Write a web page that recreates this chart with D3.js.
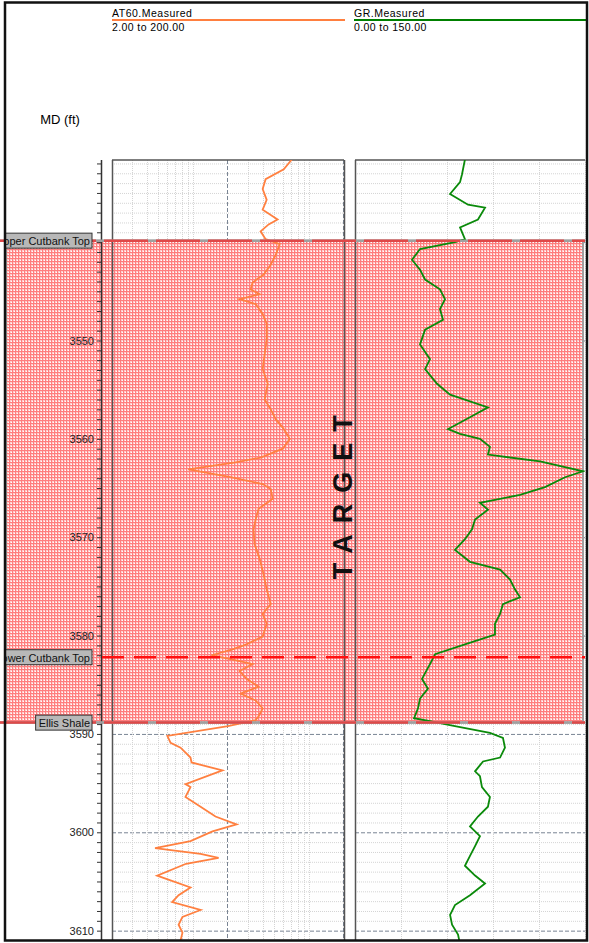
<!DOCTYPE html>
<html lang="en">
<head>
<meta charset="utf-8">
<title>Well log</title>
<script src="https://d3js.org/d3.v7.min.js"></script>
<style type="text/css">
  body { margin: 0; background: #fff; }
  text { font-family: "Liberation Sans", Arial, sans-serif; }
</style>
</head>
<body>
<svg width="589" height="943" id="svg1"></svg>
<script>

// depth (ft) / value readings
var atDepth = [3531.6,3532.6,3533.6,3534.6,3535.7,3536.7,3537.7,3538.2,3538.9,3539.7,3540.2,3541.3,3542.3,3543.3,3544.1,3544.8,3545.3,3545.8,3546.3,3547.3,3548.3,3549.9,3551.4,3552.9,3554.4,3556.0,3557.0,3558.0,3559.0,3560.0,3561.0,3561.9,3562.4,3563.1,3563.9,3564.6,3565.1,3566.1,3567.1,3568.2,3569.2,3570.7,3572.2,3573.8,3575.3,3576.8,3577.8,3578.8,3580.1,3580.9,3581.4,3582.0,3582.4,3582.9,3583.6,3584.4,3585.2,3585.9,3586.6,3587.4,3588.2,3588.6,3589.2,3590.2,3590.9,3591.4,3592.4,3592.9,3593.7,3595.1,3595.4,3596.4,3597.4,3598.4,3599.2,3599.9,3600.9,3601.6,3602.2,3602.6,3603.2,3604.4,3605.6,3606.4,3607.1,3607.9,3608.6,3609.4,3610.2,3611.0];
var at60 = [71.0,60.5,42.2,39.8,43.1,39.8,53.5,44.8,38.2,42.2,55.8,51.6,46.7,40.6,32.6,31.3,37.5,25.2,34.6,39.8,43.1,43.1,41.4,39.8,44.0,41.4,46.7,51.6,60.5,68.2,59.3,38.2,23.2,9.1,21.0,39.8,46.7,48.6,36.7,34.6,33.2,33.9,37.5,40.6,43.1,46.7,39.8,43.1,39.8,28.9,21.9,14.4,21.0,32.6,25.2,28.9,36.7,25.7,34.6,39.8,36.7,34.6,20.0,6.0,6.4,7.8,9.5,9.7,17.9,8.6,9.5,8.6,11.6,15.6,23.7,14.7,9.5,4.7,11.6,16.6,8.7,4.9,9.5,7.5,6.6,11.6,8.1,7.5,8.1,7.8];

var grDepth = [3531.6,3533.1,3533.9,3535.1,3536.2,3536.5,3537.7,3538.5,3539.7,3540.0,3540.7,3541.8,3542.8,3543.8,3544.8,3545.8,3546.8,3547.9,3548.9,3550.4,3551.9,3552.9,3554.4,3555.5,3556.8,3557.8,3559.0,3559.5,3560.0,3560.8,3561.6,3562.3,3563.3,3563.9,3564.9,3565.7,3566.5,3567.2,3568.2,3569.2,3570.2,3571.3,3572.5,3573.3,3574.3,3575.3,3576.1,3576.8,3577.8,3578.8,3579.9,3580.9,3581.9,3582.9,3584.4,3585.4,3586.4,3587.4,3588.4,3588.7,3589.2,3589.9,3590.4,3591.4,3592.4,3592.8,3593.8,3594.3,3595.4,3596.4,3597.4,3598.4,3599.4,3600.4,3601.4,3602.4,3603.4,3604.4,3605.2,3606.4,3607.4,3608.4,3609.4,3610.4,3611.0];
var gr = [71.7,69.8,68.5,62.0,73.7,84.8,80.2,68.5,71.7,65.2,42.4,37.2,42.4,45.7,55.4,58.7,55.4,57.4,45.7,42.4,48.9,45.7,53.5,62.0,86.7,75.0,60.7,68.5,81.5,88.0,86.7,120.7,148.7,137.0,123.9,107.6,81.5,86.7,78.3,76.3,71.7,65.2,75.0,94.6,101.1,104.3,107.6,96.5,94.6,91.3,91.3,71.7,52.2,48.9,43.7,47.6,42.4,41.1,38.5,48.9,65.2,88.0,96.5,97.8,94.6,83.5,78.3,81.5,82.8,88.0,86.7,80.2,75.0,81.5,78.3,75.0,71.7,78.3,84.8,75.0,65.2,62.0,63.3,67.2,68.0];

var topNames = ["Upper Cutbank Top", "Lower Cutbank Top", "Ellis Shale"];
var topDepths = [3539.85, 3582.2, 3588.85];
var zoneName = "TARGET";

var svg = d3.select("#svg1");
var top0 = 160, bot0 = 940;

var yScale = d3.scaleLinear().domain([3531.65, 3610.95]).range([top0, bot0]);
var x1 = d3.scaleLog().domain([2, 200]).range([112, 344]);
var x2 = d3.scaleLinear().domain([0, 150]).range([355, 585]);

var defs = svg.append("defs");
var pat = defs.append("pattern").attr("id", "hatch").attr("patternUnits", "userSpaceOnUse")
  .attr("width", 3).attr("height", 3);
pat.append("rect").attr("width", 3).attr("height", 3).attr("fill", "#ffc8c8");
pat.append("rect").attr("width", 3).attr("height", 1).attr("fill", "#ff7070");
pat.append("rect").attr("width", 1).attr("height", 3).attr("fill", "#ff7070");
pat.append("rect").attr("x", 2).attr("y", 2).attr("width", 1).attr("height", 1).attr("fill", "#fff");

defs.append("clipPath").attr("id", "clip1").append("rect")
  .attr("x", 112).attr("y", top0).attr("width", 232).attr("height", bot0 - top0);
defs.append("clipPath").attr("id", "clip2").append("rect")
  .attr("x", 355).attr("y", top0).attr("width", 230).attr("height", bot0 - top0);
defs.append("clipPath").attr("id", "clipLab").append("rect")
  .attr("x", 6).attr("y", 0).attr("width", 100).attr("height", 943);

// header
svg.append("text").attr("x", 112).attr("y", 17).attr("font-size", 10.5).attr("letter-spacing", 0.5).text("AT60.Measured");
svg.append("line").attr("x1", 112).attr("x2", 345).attr("y1", 20).attr("y2", 20).attr("stroke", "#ff7f3f").attr("stroke-width", 2);
svg.append("text").attr("x", 112).attr("y", 31).attr("font-size", 10.5).attr("letter-spacing", 0.4).text("2.00 to 200.00");
svg.append("text").attr("x", 354).attr("y", 17).attr("font-size", 10.5).attr("letter-spacing", 0.5).text("GR.Measured");
svg.append("line").attr("x1", 354).attr("x2", 587).attr("y1", 20).attr("y2", 20).attr("stroke", "#008000").attr("stroke-width", 2);
svg.append("text").attr("x", 354).attr("y", 31).attr("font-size", 10.5).attr("letter-spacing", 0.4).text("0.00 to 150.00");
svg.append("text").attr("x", 60).attr("y", 124).attr("text-anchor", "middle").attr("font-size", 13).text("MD (ft)");

// grids
var ft = d3.range(3532, 3611);
var g = svg.append("g");
[[112, 344], [355, 585]].forEach(function(r) {
  g.selectAll(null).data(ft).enter().append("line")
    .attr("x1", r[0]).attr("x2", r[1])
    .attr("y1", function(d) { return yScale(d) + 0.5; }).attr("y2", function(d) { return yScale(d) + 0.5; })
    .attr("stroke", function(d) { return d % 10 == 0 ? "#7a8594" : "#d4d4d4"; })
    .attr("stroke-dasharray", function(d) { return d % 10 == 0 ? "4,2" : "1,1"; });
});
var logTicks = [3,4,5,6,7,8,9,10,30,40,50,60,70,80,90,100];
g.selectAll(null).data(logTicks).enter().append("line")
  .attr("x1", function(d) { return Math.round(x1(d)) + 0.5; }).attr("x2", function(d) { return Math.round(x1(d)) + 0.5; })
  .attr("y1", top0).attr("y2", bot0).attr("stroke", "#d4d4d4").attr("stroke-dasharray", "1,1");
g.selectAll(null).data([20, 200]).enter().append("line")
  .attr("x1", function(d) { return Math.round(x1(d)) - 0.5; }).attr("x2", function(d) { return Math.round(x1(d)) - 0.5; })
  .attr("y1", top0).attr("y2", bot0).attr("stroke", "#7a8594").attr("stroke-dasharray", "4,2");
g.selectAll(null).data([30, 60, 90, 120, 150]).enter().append("line")
  .attr("x1", function(d) { return Math.round(x2(d)) + 0.5; }).attr("x2", function(d) { return Math.round(x2(d)) + 0.5; })
  .attr("y1", top0).attr("y2", bot0).attr("stroke", "#d4d4d4").attr("stroke-dasharray", "1,1");

// target zone
var zTop = yScale(topDepths[0]), zBot = yScale(topDepths[2]);
svg.append("rect").attr("x", 6).attr("y", zTop).attr("width", 577).attr("height", zBot - zTop)
  .attr("fill", "url(#hatch)").attr("fill-opacity", 0.9).attr("stroke", "#a0a0a0").attr("stroke-width", 2);

// track frames
svg.append("line").attr("x1", 112.5).attr("x2", 112.5).attr("y1", top0).attr("y2", bot0).attr("stroke", "#555").attr("stroke-width", 1.5);
svg.append("line").attr("x1", 112).attr("x2", 344).attr("y1", top0).attr("y2", top0).attr("stroke", "#555").attr("stroke-width", 1.5);
svg.append("line").attr("x1", 355.5).attr("x2", 355.5).attr("y1", top0).attr("y2", bot0).attr("stroke", "#555").attr("stroke-width", 1.5);
svg.append("line").attr("x1", 344.5).attr("x2", 344.5).attr("y1", top0).attr("y2", bot0).attr("stroke", "#555").attr("stroke-width", 1.5);
svg.append("line").attr("x1", 355).attr("x2", 585).attr("y1", top0).attr("y2", top0).attr("stroke", "#555").attr("stroke-width", 1.5);

// depth axis (3540 label sits under the formation label box, so it is not shown)
var yAxis = d3.axisLeft(yScale).tickValues(ft).tickSize(4).tickPadding(3)
  .tickFormat(function(d) { return d % 10 == 0 && d != 3540 ? d : ""; });
var ax = svg.append("g").attr("transform", "translate(101,0)").call(yAxis);
ax.select(".domain").remove();
ax.selectAll("line").attr("stroke", "#333");
ax.selectAll("text").attr("font-size", 11).attr("fill", "#222").attr("font-family", "Liberation Sans, Arial, sans-serif");
svg.append("line").attr("x1", 101.5).attr("x2", 101.5).attr("y1", top0).attr("y2", bot0).attr("stroke", "#333").attr("stroke-width", 1.5);

// curves
var line1 = d3.line().x(function(d) { return x1(d[1]); }).y(function(d) { return yScale(d[0]); });
var line2 = d3.line().x(function(d) { return x2(d[1]); }).y(function(d) { return yScale(d[0]); });
svg.append("path").datum(d3.zip(atDepth, at60)).attr("d", line1).attr("clip-path", "url(#clip1)")
  .attr("fill", "none").attr("stroke", "#ff8040").attr("stroke-width", 1.8);
svg.append("path").datum(d3.zip(grDepth, gr)).attr("d", line2).attr("clip-path", "url(#clip2)")
  .attr("fill", "none").attr("stroke", "#0a8a0a").attr("stroke-width", 1.8);

// formation tops
topDepths.forEach(function(d, i) {
  var yy = yScale(d);
  if (i == 1) {
    svg.append("line").attr("x1", 6).attr("x2", 585).attr("y1", yy).attr("y2", yy)
      .attr("stroke", "#ff1010").attr("stroke-width", 2.5).attr("stroke-dasharray", "22,10");
  } else {
    svg.append("line").attr("x1", 0).attr("x2", 585).attr("y1", yy).attr("y2", yy)
      .attr("stroke", "#a0a0a0").attr("stroke-width", 2.5);
    svg.append("line").attr("x1", 0).attr("x2", 585).attr("y1", yy).attr("y2", yy)
      .attr("stroke", "#e04848").attr("stroke-width", 2.5).attr("stroke-dasharray", "44,8");
  }
  var lab = svg.append("g").attr("clip-path", "url(#clipLab)");
  var tx = lab.append("text").attr("x", 90).attr("y", yy + 4.5).attr("text-anchor", "end")
    .attr("font-size", 11).attr("fill", "#111").text(topNames[i]);
  var w = tx.node().getComputedTextLength();
  lab.insert("rect", "text").attr("x", 90 - w - 3).attr("y", yy - 7.5).attr("width", w + 5).attr("height", 15)
    .attr("fill", "#b8b8b8").attr("stroke", "#333").attr("stroke-width", 1);
});

// zone name
svg.append("text").attr("transform", "translate(352," + ((zTop + zBot) / 2 + 10) + ") rotate(-90)")
  .attr("text-anchor", "middle").attr("font-size", 27).attr("font-weight", "bold").attr("letter-spacing", 11)
  .attr("fill", "#111").text(zoneName);

// outer frame
svg.append("rect").attr("x", 5).attr("y", 2.5).attr("width", 582).attr("height", 938)
  .attr("fill", "none").attr("stroke", "#111").attr("stroke-width", 2.5);

</script>
</body>
</html>
